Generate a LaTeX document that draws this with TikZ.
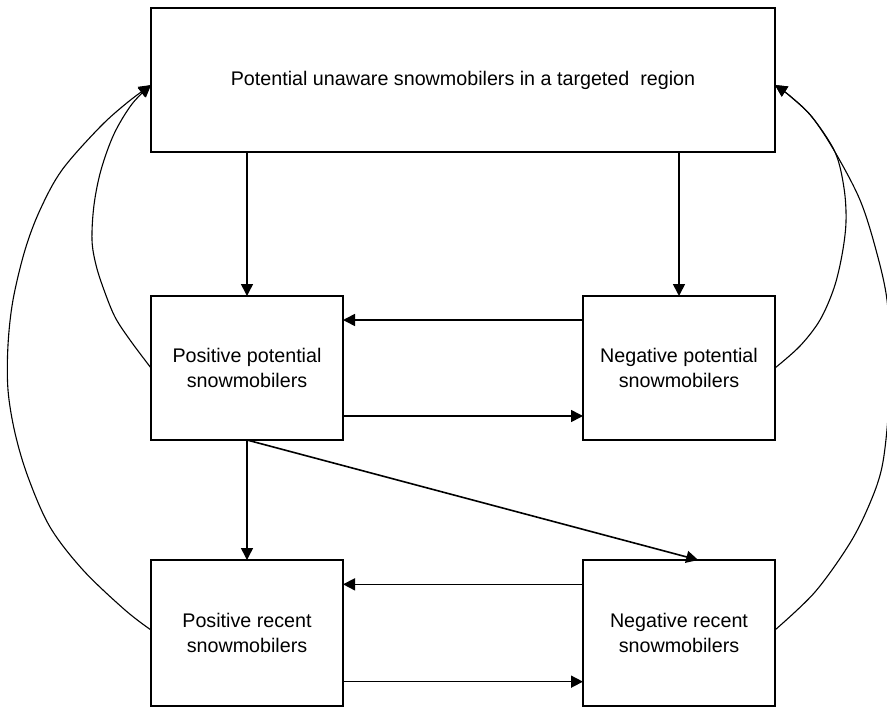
\documentclass[tikz,border=0pt]{standalone}
\usepackage{fontspec}
\setmainfont{Liberation Sans}
\usetikzlibrary{arrows.meta,calc}
\begin{document}
\begin{tikzpicture}[x=1pt,y=-1pt,
  box/.style={draw, line width=2pt, minimum width=192pt, minimum height=144pt,
    inner sep=0pt, outer sep=0pt, align=center,
    font=\fontsize{19.7}{25.5}\selectfont},
  arr/.style={line width=1.6pt, -{Triangle[length=12pt,width=12pt]}},
  loopback/.style={line width=1.1pt, -{Triangle[length=12pt,width=12pt]}}]
\useasboundingbox (0,0) rectangle (887,707);

% boxes
\node[box, minimum width=624pt] (top) at (463,80)
  {Potential unaware snowmobilers in a targeted\ \ region};
\node[box] (pp) at (247,368) {Positive potential\\snowmobilers};
\node[box] (np) at (679,368) {Negative potential\\snowmobilers};
\node[box, minimum height=146pt] (pr) at (247,633) {Positive recent\\snowmobilers};
\node[box, minimum height=146pt] (nr) at (679,633) {Negative recent\\snowmobilers};

% entry flows from the top box
\draw[arr] (pp.north |- top.south) -- (pp.north);
\draw[arr] (np.north |- top.south) -- (np.north);

% exchanges between potential groups
\coordinate (a1) at ($(np.north west)!1/6!(np.south west)$);
\draw[arr] (a1) -- (a1 -| pp.east);
\coordinate (a2) at ($(pp.north east)!5/6!(pp.south east)$);
\draw[arr] (a2) -- (a2 -| np.west);

% potential to recent
\draw[arr] (pp.south) -- (pr.north);
\coordinate (nrin) at ($(nr.north west)!0.6!(nr.north east)$);
\draw[arr] (pp.south) -- (nrin);

% exchanges between recent groups
\coordinate (b1) at ($(nr.north west)!1/6!(nr.south west)$);
\draw[arr] (b1) -- (b1 -| pr.east);
\coordinate (b2) at ($(pr.north east)!5/6!(pr.south east)$);
\draw[arr] (b2) -- (b2 -| nr.west);

% return loops to the top box
\coordinate (tl) at ($(top.north west)!0.535!(top.south west)$);
\coordinate (tr) at ($(top.north east)!0.535!(top.south east)$);

\draw[loopback] plot[smooth, tension=0.55] coordinates
  {(pp.west) (130,340) (115,317) (104,290) (96,265) (92,240) (94,205)
   (101,170) (114,134) (132,104) (tl)};
\draw[loopback] plot[smooth, tension=0.55] coordinates
  {($(pr.west)+(0,-3)$) (125,610) (83,570) (50,527) (28,477) (15,433)
   (8,390) (8,345) (13,300) (25,250) (40,210) (62,170) (100,127)
   (128,102) (tl)};

\draw[loopback] plot[smooth, tension=0.55] coordinates
  {(np.east) (800,346) (820,320) (834,288) (842,255) (846,222) (844,188)
   (835,152) (812,117) (790,96) (tr)};
\draw[loopback] plot[smooth, tension=0.55] coordinates
  {($(nr.east)+(0,-3)$) (815,592) (850,543) (870,503) (882,467) (888,417)
   (890,360) (887,300) (876,250) (860,200) (835,152) (812,117)
   (790,96) (tr)};
\end{tikzpicture}
\end{document}
